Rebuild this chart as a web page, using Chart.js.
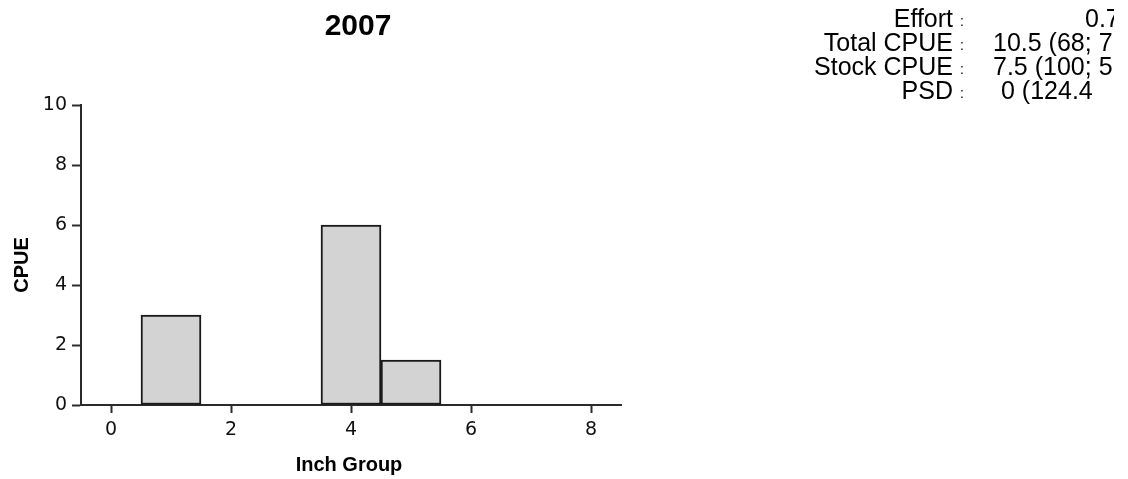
<!DOCTYPE html>
<html>
<head>
<meta charset="utf-8">
<script src="https://cdn.jsdelivr.net/npm/chart.js@4/dist/chart.umd.min.js"></script>
<style>
  html, body { margin: 0; padding: 0; background: #fff; }
  #wrap { width: 1128px; height: 479px; position: relative; }
</style>
</head>
<body>
<div id="wrap"><canvas id="chart" width="1128" height="479"></canvas></div>
<script>
// Length-frequency histogram data
const inchGroups = ['0', '1', '2', '3', '4', '5', '6', '7', '8'];
const cpueValues = [0, 3, 0, 0, 6, 1.5, 0, 0, 0];
const yTickValues = [0, 2, 4, 6, 8, 10];

const chartTitle = '2007';
const xAxisTitle = 'Inch Group';
const yAxisTitle = 'CPUE';

// Summary statistics shown at the upper right
const statNames = ['Effort', 'Total CPUE', 'Stock CPUE', 'PSD'];
const statValues = ['0.7', '10.5 (68; 7', '7.5 (100; 5', '0 (124.4'];
const statValueX = [1085, 993, 993, 1001];

const textPlugin = {
  id: 'textBlocks',
  afterDraw(chart) {
    const ctx = chart.ctx;
    const area = chart.chartArea;
    ctx.save();
    ctx.fillStyle = '#000';

    // title
    ctx.font = 'bold 30px "Liberation Sans", Arial, sans-serif';
    ctx.textAlign = 'center';
    ctx.textBaseline = 'alphabetic';
    ctx.fillText(chartTitle, 358, 35);

    // x axis title
    ctx.font = 'bold 20px "Liberation Sans", Arial, sans-serif';
    ctx.fillText(xAxisTitle, (area.left + area.right) / 2 - 2, 471);

    // y axis title (rotated)
    ctx.save();
    ctx.translate(28, 265);
    ctx.rotate(-Math.PI / 2);
    ctx.fillText(yAxisTitle, 0, 0);
    ctx.restore();

    // summary block, clipped at its right edge
    ctx.beginPath();
    ctx.rect(0, 0, 1114, 479);
    ctx.clip();
    const baselines = [27, 51, 75, 99];
    statNames.forEach((name, i) => {
      ctx.font = '25px "Liberation Sans", Arial, sans-serif';
      ctx.textAlign = 'right';
      ctx.fillText(name, 953, baselines[i]);
      ctx.font = '14px "Liberation Sans", Arial, sans-serif';
      ctx.textAlign = 'center';
      ctx.fillText(':', 962, baselines[i] - 1);
      ctx.font = '25px "Liberation Sans", Arial, sans-serif';
      ctx.textAlign = 'left';
      ctx.fillText(statValues[i], statValueX[i], baselines[i]);
    });
    ctx.restore();
  }
};

new Chart(document.getElementById('chart'), {
  type: 'bar',
  data: {
    labels: inchGroups,
    datasets: [{
      data: cpueValues,
      backgroundColor: '#d3d3d3',
      borderColor: '#1a1a1a',
      borderWidth: 2,
      borderSkipped: false,
      barPercentage: 1,
      categoryPercentage: 1
    }]
  },
  options: {
    responsive: false,
    animation: false,
    events: [],
    layout: { padding: { left: 0, right: 507, top: 105, bottom: 0 } },
    plugins: {
      legend: { display: false },
      title: { display: false },
      tooltip: { enabled: false }
    },
    scales: {
      x: {
        type: 'category',
        offset: true,
        afterFit(scale) { scale.height = 74; },
        border: { display: true, color: '#2a2a2a', width: 2 },
        grid: {
          offset: false,
          drawOnChartArea: false,
          drawTicks: true,
          tickLength: 8,
          tickWidth: 2,
          tickColor: (c) => (c.index % 2 === 0 ? '#2a2a2a' : 'rgba(0,0,0,0)')
        },
        ticks: {
          autoSkip: false,
          maxRotation: 0,
          padding: 6,
          color: '#111',
          font: { family: '"DejaVu Sans", sans-serif', size: 19 },
          callback: (v, i) => (i % 2 === 0 ? inchGroups[i] : '')
        }
      },
      y: {
        min: 0,
        max: 10,
        afterFit(scale) { scale.width = 81; },
        afterBuildTicks(scale) { scale.ticks = yTickValues.map(v => ({ value: v })); },
        border: { display: true, color: '#2a2a2a', width: 2 },
        grid: {
          drawOnChartArea: false,
          drawTicks: true,
          tickLength: 9,
          tickWidth: 2,
          tickColor: '#2a2a2a'
        },
        ticks: {
          padding: 5,
          color: '#111',
          font: { family: '"DejaVu Sans", sans-serif', size: 19 }
        }
      }
    }
  },
  plugins: [textPlugin]
});
</script>
</body>
</html>
